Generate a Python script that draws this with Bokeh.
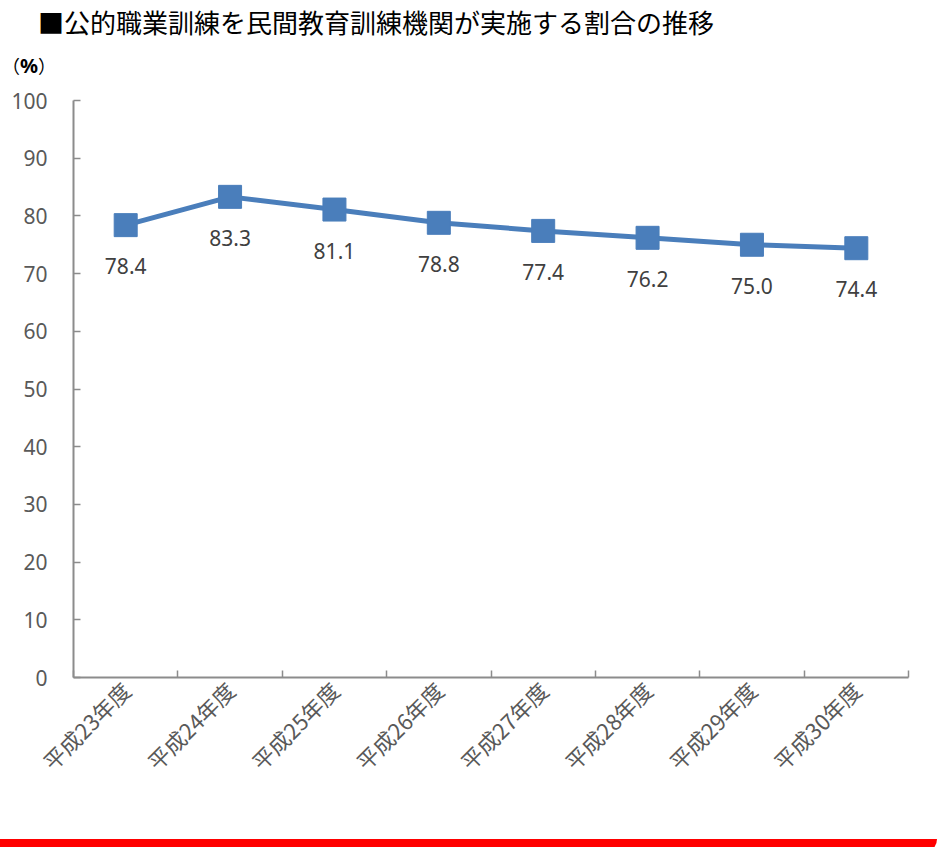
from bokeh.plotting import figure
from bokeh.models import FixedTicker, Range1d, Div, ColumnDataSource
from bokeh.layouts import column
from bokeh.core.properties import value
from bokeh.embed import file_html
from bokeh.resources import INLINE
import math

title_text = "■公的職業訓練を民間教育訓練機関が実施する割合の推移"
unit_text = "（<span style='font-weight:bold;font-family:\"Noto Sans\";font-size:20px'>%</span>）"
categories = ["平成23年度", "平成24年度", "平成25年度", "平成26年度",
              "平成27年度", "平成28年度", "平成29年度", "平成30年度"]
values = [78.4, 83.3, 81.1, 78.8, 77.4, 76.2, 75.0, 74.4]
y_ticks = [0, 10, 20, 30, 40, 50, 60, 70, 80, 90, 100]

xs = [i + 0.5 for i in range(len(categories))]
labels = [f"{v:.1f}" for v in values]
src = ColumnDataSource(dict(x=xs, y=values, lab=labels))

JP = "Noto Sans CJK JP"
NUM = "Noto Sans"

title_div = Div(text=title_text, width=937, height=45, margin=(0, 0, 0, 0),
                styles={"font-family": "'Noto Sans CJK JP'", "font-size": "26px",
                        "line-height": "44px", "color": "#000000",
                        "padding-left": "38px", "white-space": "nowrap"})
unit_div = Div(text=unit_text, width=937, height=43, margin=(0, 0, 0, 0),
               styles={"font-family": "'Noto Sans CJK JP'", "font-size": "18px",
                       "line-height": "40px", "color": "#000000",
                       "padding-left": "2px", "white-space": "nowrap"})

p = figure(width=937, height=751, output_backend="svg", toolbar_location=None,
           x_range=Range1d(0, len(categories)), y_range=Range1d(0, 100),
           min_border_left=73, min_border_right=29, min_border_top=12,
           min_border_bottom=162, margin=(0, 0, 0, 0))
p.outline_line_color = None
p.xgrid.visible = False
p.ygrid.visible = False

axis_color = "#8c8c8c"
label_color = "#595959"

xa = p.xaxis[0]
xa.ticker = FixedTicker(ticks=xs, minor_ticks=list(range(len(categories) + 1)))
xa.major_label_overrides = {x: c for x, c in zip(xs, categories)}
xa.major_label_orientation = math.pi / 4
xa.major_tick_in = 0
xa.major_tick_out = 0
xa.minor_tick_in = 7
xa.minor_tick_out = 0
xa.minor_tick_line_color = axis_color
xa.minor_tick_line_width = 1.5
xa.axis_line_color = axis_color
xa.axis_line_width = 2
xa.major_label_text_font = JP
xa.major_label_text_font_size = "22px"
xa.major_label_text_color = label_color
xa.major_label_standoff = 8

ya = p.yaxis[0]
ya.ticker = FixedTicker(ticks=y_ticks)
ya.major_tick_in = 7
ya.major_tick_out = 0
ya.minor_tick_line_color = None
ya.major_tick_line_color = axis_color
ya.major_tick_line_width = 1.5
ya.axis_line_color = axis_color
ya.axis_line_width = 2
ya.major_label_text_font = NUM
ya.major_label_text_font_size = "21px"
ya.major_label_text_color = label_color
ya.major_label_standoff = 26

blue = "#4a7ebb"
p.line("x", "y", source=src, line_color=blue, line_width=5)
p.scatter("x", "y", source=src, marker="square", size=23, fill_color=blue,
          line_color=blue)
p.text("x", "y", text="lab", source=src, text_font=value(NUM),
       text_font_size="21px", text_color="#404040", text_align="center",
       text_baseline="middle", y_offset=41)

bar = Div(width=937, height=14, margin=(0, 0, 0, 0),
          styles={"background-color": "#ff0000",
                  "border-radius": "0 0 14px 6px"})
layout = column(title_div, unit_div, p, bar, spacing=0)

open("out.html", "w").write(file_html(layout, INLINE))
